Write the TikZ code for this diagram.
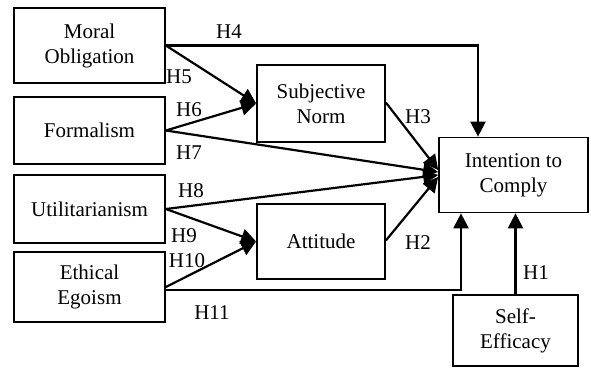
\documentclass[tikz,border=0pt]{standalone}
\usepackage{fontspec}
\setmainfont{Liberation Serif}
\usetikzlibrary{arrows.meta,calc}
\begin{document}
\begin{tikzpicture}[x=1pt,y=-1pt,
  box/.style={draw,line width=1.7pt,inner sep=0pt,align=center,font=\fontsize{21}{25}\selectfont},
  conn/.style={line width=2.2pt,-{Triangle[length=15pt,width=15pt]}},
  lab/.style={font=\fontsize{21}{24}\selectfont,inner sep=0pt}]
\useasboundingbox (0,0) rectangle (591,369);
\node[box,minimum width=151pt,minimum height=75pt] (mo) at (89.5,45.5) {Moral\\Obligation};
\node[box,minimum width=151pt,minimum height=67pt] (fo) at (89.5,130.5) {Formalism};
\node[box,minimum width=151pt,minimum height=68pt] (ut) at (89.5,209) {Utilitarianism};
\node[box,minimum width=151pt,minimum height=70pt] (ee) at (89.5,287) {Ethical\\Egoism};
\node[box,minimum width=128pt,minimum height=77pt] (sn) at (321,103.5) {Subjective\\Norm};
\node[box,minimum width=128pt,minimum height=75pt] (at) at (321,241.5) {Attitude};
\node[box,minimum width=149pt,minimum height=75pt] (ic) at (513.5,175) {Intention to\\Comply};
\node[box,minimum width=125pt,minimum height=71pt] (se) at (515.5,330.5) {Self-\\Efficacy};
% connectors
\draw[conn] (mo.east) -| ([xshift=-35.5pt]ic.north);
\draw[conn] (mo.east) -- (sn.west);
\draw[conn] (fo.east) -- (sn.west);
\draw[conn] (fo.east) -- ([yshift=3pt]ic.west);
\draw[conn] (ut.east) -- ([yshift=0pt]ic.west);
\draw[conn] (ut.east) -- (at.west);
\draw[conn] (ee.east) -- (at.west);
\draw[conn] ([yshift=-3pt]ee.east) -| ([xshift=-52.5pt]ic.south);
\draw[conn] ([yshift=1pt]sn.east) -- ([yshift=5pt]ic.west);
\draw[conn] ([yshift=1pt]at.east) -- ([yshift=-2pt]ic.west);
\draw[conn] (se.north) -- (se.north |- ic.south);
% labels
\node[lab] (h4) at (229,32) {H4};
\node[lab] (h5) at (179,77) {H5};
\node[lab] (h6) at (189,110) {H6};
\node[lab] (h7) at (189,153) {H7};
\node[lab] (h8) at (191,191) {H8};
\node[lab] (h9) at (184,236) {H9};
\node[lab] (h10) at (187,261) {H10};
\node[lab] (h11) at (212,313) {H11};
\node[lab] (h3) at (418,117) {H3};
\node[lab] (h2) at (418,243) {H2};
\node[lab] (h1) at (536,273) {H1};
\end{tikzpicture}
\end{document}
